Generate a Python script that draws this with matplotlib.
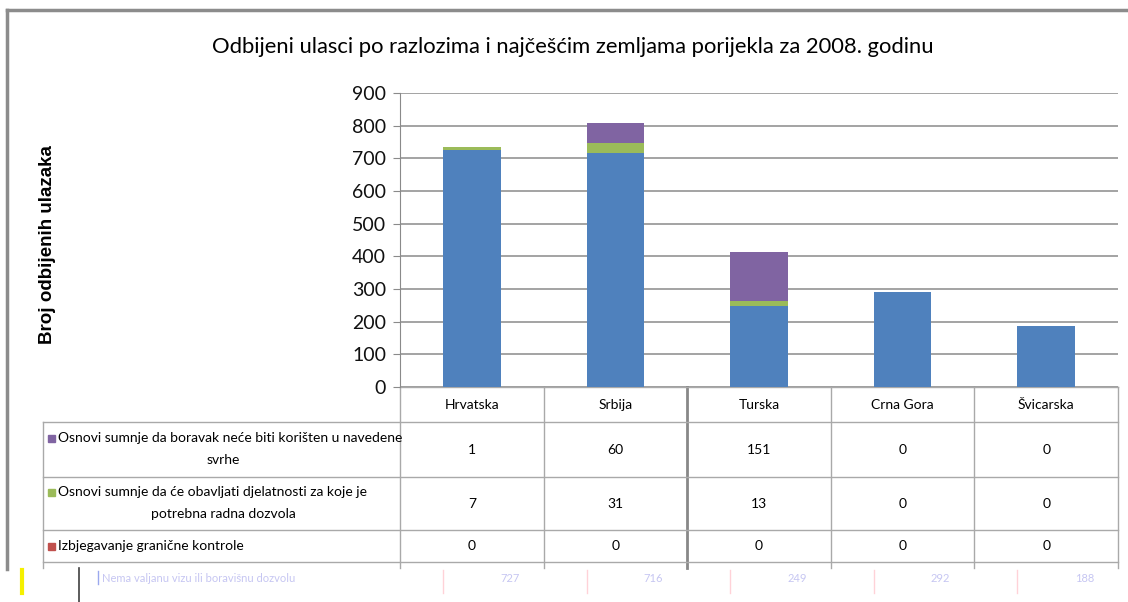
import numpy as np
import matplotlib.pyplot as plt
from matplotlib.patches import Rectangle

# data (blue row of the table is cut off)
countries = ['Hrvatska', 'Srbija', 'Turska', 'Crna Gora', 'Švicarska']
visa = [727, 716, 249, 292, 188]
work_permit = [7, 31, 13, 0, 0]
border_control = [0, 0, 0, 0, 0]
purpose = [1, 60, 151, 0, 0]

row_labels = [
    ['Osnovi sumnje da boravak neće biti korišten u navedene', 'svrhe'],
    ['Osnovi sumnje da će obavljati djelatnosti za koje je', 'potrebna radna dozvola'],
    ['Izbjegavanje granične kontrole'],
]
visa_label = 'Nema valjanu vizu ili boravišnu dozvolu'
title = 'Odbijeni ulasci po razlozima i najčešćim zemljama porijekla za 2008. godinu'
ylabel = 'Broj odbijenih ulazaka'
yticks = np.arange(0, 901, 100)

c_visa, c_work, c_border, c_purpose = '#4f81bd', '#9bbb59', '#c0504d', '#8064a2'
narrow = ['Lato', 'DejaVu Sans']
grid_c = '#8a8a8a'
tab_c = '#a9a9a9'

W, H = 1128, 602
fig = plt.figure(figsize=(W / 100, H / 100), dpi=100)

# overlay in pixel coordinates for the frame and the data table
lay = fig.add_axes([0, 0, 1, 1])
lay.set_xlim(0, W)
lay.set_ylim(H, 0)
lay.axis('off')

# bar chart
left, right, top, bottom = 400, 1118, 93, 387
ax = fig.add_axes([left / W, 1 - bottom / H, (right - left) / W, (bottom - top) / H])
x = np.arange(len(countries))
bw = 0.4
b1 = np.array(visa)
b2 = b1 + np.array(work_permit)
b3 = b2 + np.array(border_control)
ax.bar(x, visa, bw, color=c_visa, zorder=3)
ax.bar(x, work_permit, bw, bottom=b1, color=c_work, zorder=3)
ax.bar(x, border_control, bw, bottom=b2, color=c_border, zorder=3)
ax.bar(x, purpose, bw, bottom=b3, color=c_purpose, zorder=3)
ax.set_xlim(-0.5, len(countries) - 0.5)
ax.set_ylim(0, 900)
ax.set_yticks(yticks)
ax.set_yticklabels([str(v) for v in yticks], fontsize=14, family=narrow)
ax.set_xticks([])
ax.yaxis.grid(True, color=grid_c, lw=1.1, zorder=0)
for s in ['top', 'right', 'bottom']:
    ax.spines[s].set_visible(False)
ax.spines['left'].set_color(grid_c)
ax.tick_params(axis='y', length=5, color=grid_c, pad=5, labelcolor='#111111')
ax.patch.set_alpha(0)

# outer frame (cut off at the bottom)
lay.plot([7, 7], [10, 569], color='#8c8c8c', lw=2.5)
lay.plot([7, W], [10, 10], color='#8c8c8c', lw=2.5)

lay.text(573, 47, title, ha='center', va='center', fontsize=15.8, family=narrow,
         color='#000000')
lay.text(48, 245, ylabel, ha='center', va='center', rotation=90, fontsize=13.5,
         fontweight='bold', family='Liberation Sans')

# data table
edges = left + (right - left) * np.arange(len(countries) + 1) / len(countries)
centers = (edges[:-1] + edges[1:]) / 2
rows_y = [422, 477, 530, 562]
tab_left = 43
for xe in edges:
    thick = xe == edges[2]
    lay.plot([xe, xe], [bottom, 568], color='#888888' if thick else tab_c,
             lw=2.0 if thick else 1.0)
lay.plot([tab_left, tab_left], [rows_y[0], 568], color=tab_c, lw=1.0)
lay.plot([left, right], [bottom, bottom], color=tab_c, lw=1.0)
for yy in rows_y:
    lay.plot([tab_left, right], [yy, yy], color=tab_c, lw=1.0)

for cx, name in zip(centers, countries):
    lay.text(cx, 405, name, ha='center', va='center', fontsize=10, family=narrow)

table_rows = [purpose, work_permit, border_control]
row_colors = [c_purpose, c_work, c_border]
for i, (vals, labels, col) in enumerate(zip(table_rows, row_labels, row_colors)):
    y0, y1 = rows_y[i], rows_y[i + 1]
    ym = (y0 + y1) / 2
    if len(labels) == 2:
        ly = [ym - 11, ym + 11]
    else:
        ly = [ym]
    lay.add_patch(Rectangle((48, ly[0] - 3.5), 7, 7, color=col))
    lay.text(58, ly[0], labels[0], ha='left', va='center', fontsize=10, family=narrow)
    if len(labels) == 2:
        lay.text((tab_left + left) / 2 + 2, ly[1], labels[1], ha='center', va='center',
                 fontsize=10, family=narrow)
    for cx, v in zip(centers, vals):
        lay.text(cx, ym, str(v), ha='center', va='center', fontsize=10, family=narrow)

# garbled, shifted remnant of the last row at the bottom edge
shift = 43
lay.plot([22, 22], [570, 593], color='#f5f000', lw=3)
lay.plot([79, 79], [568, 602], color='#404040', lw=1.2)
lay.plot([98, 98], [571, 584], color='#9aa8ee', lw=1)
lay.text(102, 578, visa_label, ha='left', va='center', fontsize=8, color='#c6c6f2',
         family=narrow)
for xe in edges[:-1]:
    lay.plot([xe + shift, xe + shift], [570, 593], color='#ffd2d8', lw=1)
for cx, v in zip(centers, visa):
    lay.text(cx + shift - 5, 578, str(v), ha='center', va='center', fontsize=8,
             color='#c6c6f2', family=narrow)

fig.savefig('out.png', dpi=100)
